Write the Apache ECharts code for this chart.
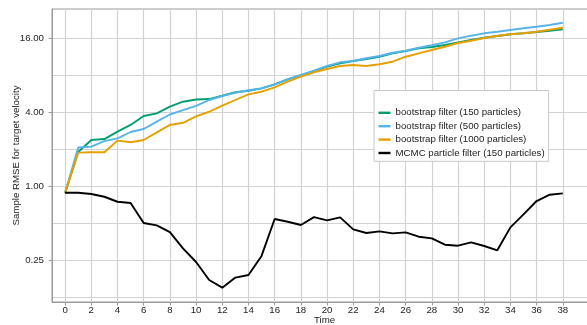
<!DOCTYPE html>
<html>
<head>
<meta charset="utf-8">
<script src="https://cdn.jsdelivr.net/npm/echarts@6/dist/echarts.min.js"></script>
<style>
  html, body { margin: 0; padding: 0; background: #ffffff; }
  #chart { width: 587px; height: 325px; }
</style>
</head>
<body>
<div id="chart"></div>
<script>
// Time steps of the tracking run
const timeSteps = [0,1,2,3,4,5,6,7,8,9,10,11,12,13,14,15,16,17,18,19,20,21,22,23,24,25,26,27,28,29,30,31,32,33,34,35,36,37,38];

// Sample RMSE of the target velocity per filter
const bootstrap150 = [0.88,1.89,2.37,2.41,2.77,3.14,3.71,3.90,4.42,4.85,5.06,5.10,5.43,5.79,5.96,6.23,6.72,7.38,7.96,8.62,9.35,9.96,10.40,10.80,11.27,12.01,12.54,13.19,13.52,14.03,14.76,15.41,16.09,16.61,17.15,17.47,17.90,18.35,18.83];
const bootstrap500 = [0.88,2.06,2.09,2.32,2.44,2.75,2.91,3.34,3.82,4.15,4.48,5.01,5.40,5.74,6.01,6.23,6.72,7.38,8.00,8.70,9.47,10.15,10.40,10.94,11.42,12.15,12.61,13.34,13.98,14.76,15.91,16.71,17.47,18.00,18.59,19.19,19.77,20.41,21.31];
const bootstrap1000 = [0.88,1.87,1.88,1.88,2.34,2.27,2.37,2.73,3.14,3.27,3.68,4.02,4.50,5.01,5.57,5.85,6.35,7.06,7.75,8.42,8.95,9.47,9.65,9.47,9.78,10.26,11.27,12.01,12.78,13.59,14.57,15.21,16.00,16.61,17.15,17.47,18.00,18.69,19.40];
const mcmc150 = [0.882,0.882,0.861,0.818,0.745,0.727,0.500,0.479,0.422,0.311,0.241,0.172,0.149,0.180,0.189,0.270,0.539,0.512,0.482,0.559,0.526,0.556,0.444,0.415,0.428,0.412,0.420,0.387,0.375,0.333,0.327,0.348,0.325,0.300,0.461,0.588,0.755,0.850,0.872];

const seriesNames = [
  'bootstrap filter (150 particles)',
  'bootstrap filter (500 particles)',
  'bootstrap filter (1000 particles)',
  'MCMC particle filter (150 particles)'
];
const seriesColors = ['#009E73', '#56B4E9', '#E69F00', '#000000'];

// Axis ticks
const xTickValues = [0,2,4,6,8,10,12,14,16,18,20,22,24,26,28,30,32,34,36,38];
const yGridValues = [0.125,0.25,0.5,1,2,4,8,16];
const yLabelValues = [0.25,1,4,16];

const FONT = 'Liberation Sans, Arial, Helvetica, sans-serif';
const TEXT = '#222222';
const AXIS = '#9a9a9a';
const GRID = '#d2d2d2';

const allSeries = [bootstrap150, bootstrap500, bootstrap1000, mcmc150];

const chart = echarts.init(document.getElementById('chart'), null, { renderer: 'canvas' });

chart.setOption({
  animation: false,
  backgroundColor: '#ffffff',
  textStyle: { fontFamily: FONT },
  grid: {
    left: 52, top: 9, width: 537, height: 293,
    outerBoundsMode: 'none',
    containLabel: false,
    show: true, borderColor: AXIS, borderWidth: 1, backgroundColor: 'transparent'
  },
  legend: {
    orient: 'vertical',
    left: 374, top: 90.5,
    backgroundColor: '#ffffff',
    borderColor: '#c8c8c8', borderWidth: 1,
    padding: [16.3, 4, 2.3, 4.5],
    itemWidth: 12, itemHeight: 2.4, itemGap: 1.4,
    icon: 'rect',
    textStyle: { fontFamily: FONT, fontSize: 9.7, color: TEXT, lineHeight: 12 },
    data: seriesNames
  },
  xAxis: {
    type: 'value',
    min: -1, max: 40,
    name: 'Time', nameLocation: 'middle', nameGap: 13, nameMoveOverlap: false,
    nameTextStyle: { fontFamily: FONT, fontSize: 9.7, color: TEXT, padding: [0, 0, 0, 8] },
    axisLine: { show: true, lineStyle: { color: AXIS, width: 1 } },
    axisTick: { show: true, customValues: xTickValues, length: 3.5, lineStyle: { color: AXIS } },
    axisLabel: { customValues: xTickValues, fontFamily: FONT, fontSize: 9.7, color: TEXT, margin: 3.5 },
    splitLine: { show: true, lineStyle: { color: GRID, width: 1.2 } }
  },
  yAxis: [
    {
      // grid lines at every power of two
      type: 'log', logBase: 2,
      min: 0.1139, max: 27.55,
      axisLine: { show: false },
      axisTick: { show: false, customValues: yGridValues },
      axisLabel: { show: false, customValues: yGridValues },
      splitLine: { show: true, lineStyle: { color: GRID, width: 1.2 } }
    },
    {
      // labelled ticks and axis title
      type: 'log', logBase: 2,
      min: 0.1139, max: 27.55,
      position: 'left',
      name: 'Sample RMSE for target velocity', nameLocation: 'middle', nameGap: 31, nameMoveOverlap: false,
      nameTextStyle: { fontFamily: FONT, fontSize: 9.7, color: TEXT },
      axisLine: { show: true, lineStyle: { color: AXIS, width: 1 } },
      axisTick: { show: true, customValues: yLabelValues, length: 3.5, lineStyle: { color: AXIS } },
      axisLabel: {
        customValues: yLabelValues, fontFamily: FONT, fontSize: 9.7, color: TEXT, margin: 8,
        formatter: v => Number(v).toFixed(2)
      },
      splitLine: { show: false }
    }
  ],
  series: allSeries.map((vals, i) => ({
    name: seriesNames[i],
    type: 'line',
    yAxisIndex: 0,
    showSymbol: false,
    symbol: 'none',
    lineStyle: { color: seriesColors[i], width: 1.9 },
    itemStyle: { color: seriesColors[i] },
    data: timeSteps.map((t, k) => [t, vals[k]])
  }))
});
</script>
</body>
</html>
